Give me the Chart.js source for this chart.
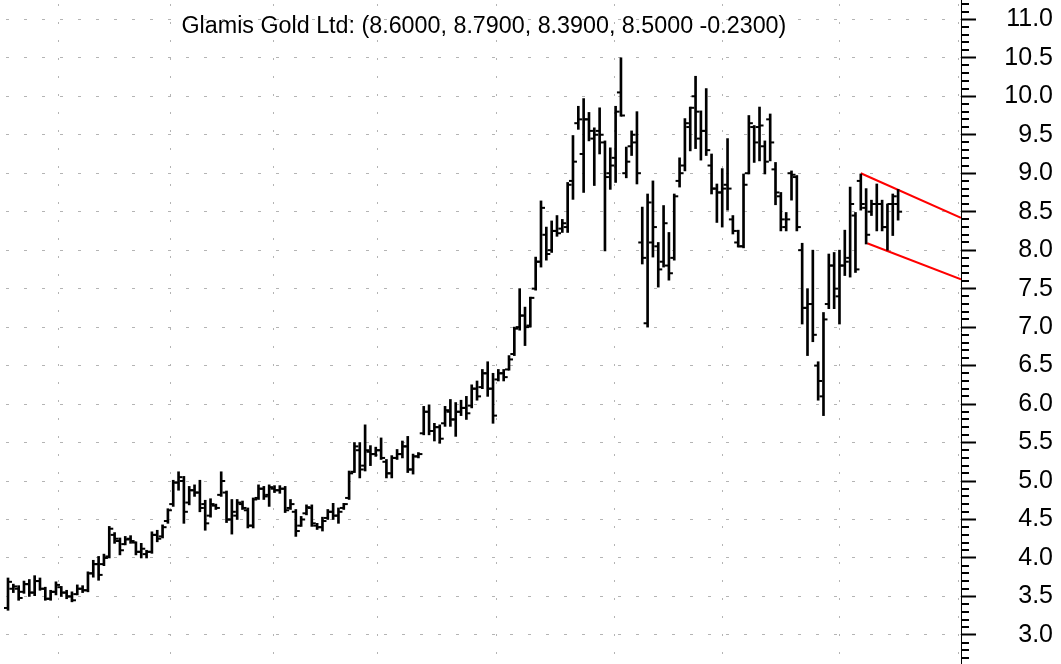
<!DOCTYPE html>
<html>
<head>
<meta charset="utf-8">
<title>Glamis Gold Ltd</title>
<script src="https://cdn.jsdelivr.net/npm/chart.js@4.4.1/dist/chart.umd.min.js"></script>
<style>
  html, body { margin: 0; padding: 0; background: #fff; }
  #wrap { width: 1061px; height: 664px; }
</style>
</head>
<body>
<div id="wrap"><canvas id="chart" width="1061" height="664"></canvas></div>
<script>
const chartTitle = 'Glamis Gold Ltd: (8.6000, 8.7900, 8.3900, 8.5000 -0.2300)';

// daily bars, oldest first
const opens = [3.35,3.60,3.60,3.56,3.66,3.55,3.70,3.60,3.47,3.56,
  3.62,3.55,3.50,3.53,3.60,3.58,3.80,3.92,3.92,4.02,
  4.30,4.22,4.18,4.25,4.20,4.08,4.05,4.08,4.30,4.28,
  4.48,4.70,4.98,5.00,4.72,4.88,4.85,4.70,4.55,4.68,
  4.82,4.85,4.50,4.55,4.70,4.62,4.42,4.78,4.90,4.82,
  4.90,4.88,4.90,4.65,4.60,4.42,4.58,4.65,4.42,4.40,
  4.52,4.60,4.55,4.65,4.78,5.12,5.40,5.20,5.38,5.35,
  5.40,5.25,5.10,5.30,5.35,5.45,5.15,5.32,5.62,5.90,
  5.65,5.70,5.75,5.90,5.80,5.90,5.95,5.98,6.20,6.22,
  6.40,6.20,6.32,6.40,6.45,6.65,7.00,7.15,7.02,7.50,
  7.85,8.20,8.00,8.25,8.28,8.30,8.90,9.65,9.25,9.70,
  9.45,9.55,9.40,9.00,9.20,10.05,9.00,9.35,9.40,8.10,
  7.05,8.10,8.05,7.85,7.80,7.90,8.90,9.10,9.60,10.00,
  9.45,9.55,9.10,8.80,8.75,8.85,8.40,8.10,8.05,9.00,
  9.60,9.60,9.35,9.70,9.05,8.70,8.30,9.00,8.95,8.00,
  7.25,7.30,6.50,6.10,7.30,7.80,7.40,7.80,7.90,8.45,
  8.90,8.55,8.50,8.60,8.60,8.30,8.60,8.60];
const highs = [3.74,3.66,3.64,3.70,3.72,3.77,3.74,3.62,3.58,3.69,
  3.63,3.58,3.56,3.65,3.64,3.82,3.97,4.02,4.05,4.41,
  4.33,4.26,4.28,4.29,4.21,4.19,4.10,4.34,4.36,4.43,
  4.64,5.01,5.12,5.06,4.93,4.95,5.01,4.75,4.77,4.70,
  5.12,4.87,4.76,4.76,4.74,4.65,4.78,4.95,4.93,4.95,
  4.94,4.94,4.93,4.76,4.63,4.54,4.69,4.69,4.45,4.53,
  4.63,4.71,4.65,4.71,5.13,5.50,5.50,5.73,5.46,5.44,
  5.56,5.28,5.33,5.41,5.52,5.58,5.35,5.37,5.97,5.99,
  5.75,5.73,5.97,6.06,6.02,6.05,6.10,6.25,6.30,6.45,
  6.55,6.40,6.45,6.45,6.63,7.00,7.50,7.26,7.39,7.91,
  8.64,8.30,8.38,8.45,8.40,8.88,9.49,9.87,9.97,9.79,
  9.59,9.85,9.42,9.33,9.87,10.50,9.34,9.55,9.80,8.56,
  8.73,8.90,8.10,8.58,8.23,8.73,9.20,9.71,9.86,10.26,
  9.81,10.10,9.25,8.86,9.06,9.45,8.45,8.26,8.99,9.75,
  9.62,9.86,9.42,9.77,9.14,8.75,8.49,9.03,8.97,8.09,
  7.50,8.00,6.55,7.19,7.95,7.97,8.00,8.26,8.82,8.49,
  8.99,8.80,8.65,8.86,8.65,8.60,8.73,8.79];
const lows = [3.32,3.55,3.45,3.54,3.50,3.51,3.58,3.45,3.45,3.52,
  3.50,3.47,3.43,3.52,3.55,3.56,3.75,3.71,3.90,4.00,
  4.19,4.04,4.17,4.19,4.04,4.00,4.00,4.06,4.21,4.26,
  4.45,4.67,4.88,4.45,4.69,4.80,4.60,4.36,4.53,4.63,
  4.80,4.46,4.31,4.50,4.63,4.39,4.39,4.76,4.76,4.67,
  4.85,4.84,4.59,4.63,4.28,4.41,4.56,4.41,4.37,4.35,
  4.50,4.50,4.45,4.63,4.76,5.11,5.04,5.13,5.20,5.32,
  5.28,5.04,5.04,5.28,5.30,5.11,5.09,5.30,5.60,5.60,
  5.52,5.49,5.71,5.71,5.58,5.85,5.80,5.95,6.05,6.20,
  6.10,5.75,6.30,6.30,6.44,6.63,6.96,6.76,7.00,7.48,
  7.78,7.87,7.97,8.18,8.23,8.23,8.66,9.57,8.75,9.42,
  8.84,9.25,7.99,8.79,8.88,9.74,8.94,9.23,8.86,7.82,
  7.00,7.91,7.52,7.78,7.61,7.87,8.82,9.03,9.29,9.32,
  9.17,9.23,8.73,8.36,8.30,8.52,8.21,8.04,8.03,8.99,
  9.14,9.16,8.99,9.16,8.59,8.25,8.25,8.65,8.25,7.04,
  6.63,6.81,6.05,5.85,7.24,7.24,7.04,7.67,7.65,7.71,
  8.52,8.08,8.45,8.25,8.25,8.00,8.19,8.39];
const closes = [3.69,3.63,3.48,3.66,3.55,3.70,3.60,3.47,3.56,3.65,
  3.55,3.50,3.45,3.60,3.58,3.80,3.92,3.78,4.00,4.38,
  4.25,4.10,4.24,4.22,4.08,4.12,4.08,4.30,4.25,4.40,
  4.62,4.98,5.05,4.60,4.88,4.85,4.65,4.45,4.70,4.65,
  5.00,4.50,4.60,4.72,4.65,4.42,4.76,4.90,4.80,4.92,
  4.88,4.90,4.62,4.70,4.35,4.50,4.66,4.45,4.40,4.48,
  4.60,4.55,4.60,4.70,5.10,5.45,5.15,5.40,5.35,5.40,
  5.30,5.10,5.30,5.35,5.45,5.15,5.32,5.35,5.90,5.65,
  5.70,5.55,5.92,5.80,5.90,5.95,5.88,6.20,6.10,6.40,
  6.20,5.85,6.40,6.35,6.58,6.98,7.15,7.00,7.38,7.85,
  8.55,7.95,8.25,8.22,8.35,8.85,9.15,9.70,9.70,9.55,
  9.50,9.50,8.95,9.10,9.80,9.75,9.15,9.50,9.00,7.90,
  8.62,8.30,7.75,8.35,7.70,8.70,9.00,9.65,9.85,9.80,
  9.55,9.30,8.80,8.75,8.80,8.80,8.25,8.05,8.85,9.65,
  9.40,9.62,9.15,9.40,8.75,8.40,8.40,8.98,8.30,7.25,
  7.30,6.90,6.30,7.10,7.80,7.50,7.80,7.85,8.60,7.75,
  8.60,8.20,8.60,8.60,8.30,8.60,8.70,8.50];

// month boundaries (bar index) and price axis labels
const monthLines = [9.4, 30.4, 49.7, 69.2, 91.6, 113.7, 134.0, 155.9, 178.2];
const priceTicks = [3.0, 3.5, 4.0, 4.5, 5.0, 5.5, 6.0, 6.5, 7.0, 7.5, 8.0, 8.5, 9.0, 9.5, 10.0, 10.5, 11.0];

// falling channel drawn over the last bars
const upperChannel = [{x: 160.0, y: 9.00}, {x: 178.8, y: 8.42}];
const lowerChannel = [{x: 161.2, y: 8.09}, {x: 178.8, y: 7.62}];

const gridGray = '#b4b4b4';
const fontFamily = '"Liberation Sans", Arial, Helvetica, sans-serif';

const ohlcPlugin = {
    id: 'ohlc',
    beforeDatasetsDraw(chart) {
        const {ctx, chartArea, scales: {x}} = chart;
        ctx.save();
        ctx.strokeStyle = gridGray;
        ctx.lineWidth = 1;
        ctx.setLineDash([2, 16]);
        ctx.lineDashOffset = 14;
        monthLines.forEach(m => {
            const px = Math.round(x.getPixelForValue(m)) + 0.5;
            ctx.beginPath();
            ctx.moveTo(px, chartArea.top);
            ctx.lineTo(px, chartArea.bottom);
            ctx.stroke();
        });
        ctx.restore();
    },
    afterDatasetsDraw(chart) {
        // open tick on the left, close tick on the right
        const {ctx, scales: {x, y}} = chart;
        ctx.save();
        ctx.fillStyle = '#000';
        opens.forEach((o, i) => {
            const cx = x.getPixelForValue(i);
            ctx.fillRect(cx - 4, y.getPixelForValue(o) - 1, 4, 2);
            ctx.fillRect(cx, y.getPixelForValue(closes[i]) - 1, 4, 2);
        });
        ctx.restore();
    },
    afterDraw(chart) {
        const {ctx, chartArea, scales: {y}} = chart;
        ctx.save();
        // minor ticks every 0.1
        ctx.strokeStyle = '#000';
        ctx.lineWidth = 2;
        for (let k = 26; k <= 113; k++) {
            if (k % 5 === 0) continue;
            const py = Math.round(y.getPixelForValue(k / 10));
            if (py < chartArea.top || py > chartArea.bottom) continue;
            ctx.beginPath();
            ctx.moveTo(chartArea.right, py);
            ctx.lineTo(chartArea.right + 8, py);
            ctx.stroke();
        }
        ctx.fillStyle = '#000';
        ctx.font = '23.3px ' + fontFamily;
        ctx.textBaseline = 'alphabetic';
        ctx.fillText(chartTitle, 181.5, 33);
        ctx.restore();
    }
};

const ctx = document.getElementById('chart').getContext('2d');
new Chart(ctx, {
    type: 'bar',
    data: {
        datasets: [
            {
                type: 'bar',
                data: highs.map((h, i) => ({x: i, y: [lows[i], h]})),
                backgroundColor: '#000',
                borderWidth: 0,
                barThickness: 2,
                grouped: false
            },
            {
                type: 'line',
                data: upperChannel,
                borderColor: '#ff0000',
                borderWidth: 2,
                pointRadius: 0
            },
            {
                type: 'line',
                data: lowerChannel,
                borderColor: '#ff0000',
                borderWidth: 2,
                pointRadius: 0
            }
        ]
    },
    options: {
        responsive: false,
        animation: false,
        layout: { padding: { left: 0, top: 0, bottom: 0, right: 8 } },
        plugins: { legend: { display: false }, tooltip: { enabled: false } },
        scales: {
            x: {
                type: 'linear',
                display: false,
                offset: false,
                min: -1.5,
                max: 178.8,
                grid: { offset: false }
            },
            y: {
                position: 'right',
                min: 2.622,
                max: 11.251,
                afterBuildTicks: s => { s.ticks = priceTicks.map(v => ({value: v})); },
                afterFit: s => { s.width = 92; s.paddingTop = 0; s.paddingBottom = 0; },
                grid: {
                    color: gridGray,
                    lineWidth: 1,
                    tickColor: '#000',
                    tickLength: 15,
                    tickWidth: 2
                },
                border: { display: true, color: '#000', width: 1, dash: [3, 15], dashOffset: 12 },
                ticks: {
                    crossAlign: 'far',
                    padding: 21,
                    color: '#000',
                    font: { family: fontFamily, size: 25 },
                    callback: v => v.toFixed(1)
                }
            }
        }
    },
    plugins: [ohlcPlugin]
});
</script>
</body>
</html>
